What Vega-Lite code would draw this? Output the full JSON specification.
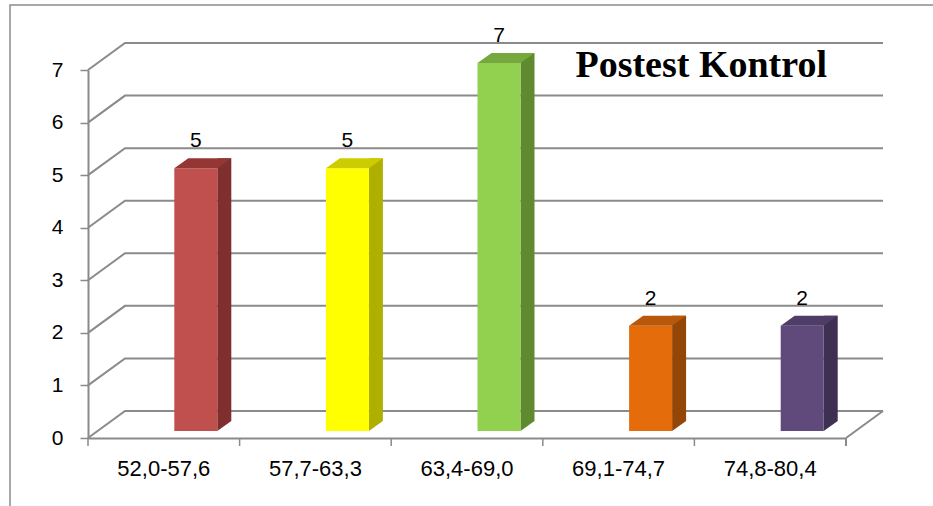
{
  "$schema": "https://vega.github.io/schema/vega-lite/v6.json",
  "autosize": "none",
  "width": 758,
  "height": 368,
  "padding": {"left": 88, "top": 70, "right": 87, "bottom": 68},
  "background": "#ffffff",
  "config": {
    "view": {"stroke": null},
    "font": "Liberation Sans, sans-serif",
    "axisX": {"ticks": false, "domain": true, "domainColor": "#8a8a8a", "domainWidth": 2, "labelAngle": 0, "labelFontSize": 22, "labelColor": "#000000", "labelPadding": 20, "labelAlign": "center", "labelFont": "Liberation Sans, sans-serif", "grid": false, "title": null},
    "axisY": {"grid": false, "domainColor": "#8a8a8a", "domainWidth": 2, "ticks": true, "tickColor": "#8a8a8a", "tickWidth": 1.5, "tickSize": 8, "labelPadding": 17, "labelFontSize": 21, "labelColor": "#000000", "labelFont": "Liberation Sans, sans-serif", "title": null}
  },
  "datasets": {
    "bars": [
      {"k": "52,0-57,6", "v": 5},
      {"k": "57,7-63,3", "v": 5},
      {"k": "63,4-69,0", "v": 7},
      {"k": "69,1-74,7", "v": 2},
      {"k": "74,8-80,4", "v": 2}
    ],
    "grid": [{"g": 0}, {"g": 1}, {"g": 2}, {"g": 3}, {"g": 4}, {"g": 5}, {"g": 6}, {"g": 7}],
    "titles": [{"t": "Postest Kontrol"}]
  },
  "resolve": {"scale": {"color": "independent"}},
  "layer": [
    {
      "data": {"name": "grid"},
      "mark": {"type": "point", "shape": "M0,0 L37,-27 L795,-27", "size": 4, "filled": false, "opacity": 1, "color": "#8a8a8a", "strokeWidth": 2, "xOffset": -75.8},
      "encoding": {
        "x": {"datum": "52,0-57,6", "type": "nominal", "title": null, "scale": {"domain": ["52,0-57,6", "57,7-63,3", "63,4-69,0", "69,1-74,7", "74,8-80,4"], "paddingInner": 0, "paddingOuter": 0}, "axis": {"labelAlign": "center", "bandPosition": 0.5}},
        "y": {"field": "g", "type": "quantitative", "title": null, "scale": {"domain": [0, 7], "nice": false}, "axis": {"values": [0, 1, 2, 3, 4, 5, 6, 7], "format": "d"}}
      }
    },
    {
      "data": {"name": "bars"},
      "mark": {"type": "point", "shape": "M0,0 L0,8", "size": 4, "filled": false, "opacity": 1, "color": "#8a8a8a", "strokeWidth": 1.5, "xOffset": -75.8},
      "encoding": {
        "x": {"field": "k", "type": "nominal", "title": null, "axis": {"labelAlign": "center", "bandPosition": 0.5}},
        "y": {"datum": 0, "type": "quantitative", "title": null, "axis": {"values": [0, 1, 2, 3, 4, 5, 6, 7], "format": "d"}}
      }
    },
    {
      "data": {"name": "titles"},
      "mark": {"type": "point", "shape": "M0,0 L37,-27 M0,0 L0,8", "size": 4, "filled": false, "opacity": 1, "color": "#8a8a8a", "strokeWidth": 2, "xOffset": 75.8},
      "encoding": {
        "x": {"datum": "74,8-80,4", "type": "nominal", "title": null, "axis": {"labelAlign": "center", "bandPosition": 0.5}},
        "y": {"datum": 0, "type": "quantitative", "title": null, "axis": {"values": [0, 1, 2, 3, 4, 5, 6, 7], "format": "d"}}
      }
    },
    {
      "data": {"name": "titles"},
      "mark": {"type": "point", "shape": "M0,600 L0,0 L1000,0", "size": 4, "filled": false, "opacity": 1, "color": "#8c8c8c", "strokeWidth": 1.5, "xOffset": -153.8, "yOffset": -65},
      "encoding": {
        "x": {"datum": "52,0-57,6", "type": "nominal", "title": null, "axis": {"labelAlign": "center", "bandPosition": 0.5}},
        "y": {"datum": 7, "type": "quantitative", "title": null, "axis": {"values": [0, 1, 2, 3, 4, 5, 6, 7], "format": "d"}}
      }
    },
    {
      "data": {"name": "bars"},
      "mark": {"type": "bar", "width": 14, "xOffset": 60.5, "yOffset": -17, "y2Offset": -17},
      "encoding": {
        "x": {"field": "k", "type": "nominal", "title": null, "axis": {"labelAlign": "center", "bandPosition": 0.5}},
        "y": {"field": "v", "type": "quantitative", "title": null, "axis": {"values": [0, 1, 2, 3, 4, 5, 6, 7], "format": "d"}},
        "y2": {"datum": 0},
        "color": {"field": "k", "type": "nominal", "legend": null, "scale": {"domain": ["52,0-57,6", "57,7-63,3", "63,4-69,0", "69,1-74,7", "74,8-80,4"], "range": ["#7F302E", "#AFAF00", "#5F8A30", "#944607", "#3E3050"]}}
      }
    },
    {
      "data": {"name": "bars"},
      "mark": {"type": "point", "shape": "M21.5,-10 L21.5,0 L35.5,-10 Z", "size": 4, "filled": true, "opacity": 1, "strokeWidth": 0, "xOffset": 32, "yOffset": -7},
      "encoding": {
        "x": {"field": "k", "type": "nominal", "title": null, "axis": {"labelAlign": "center", "bandPosition": 0.5}},
        "y": {"datum": 0, "type": "quantitative", "title": null, "axis": {"values": [0, 1, 2, 3, 4, 5, 6, 7], "format": "d"}},
        "color": {"field": "k", "type": "nominal", "legend": null, "scale": {"domain": ["52,0-57,6", "57,7-63,3", "63,4-69,0", "69,1-74,7", "74,8-80,4"], "range": ["#7F302E", "#AFAF00", "#5F8A30", "#944607", "#3E3050"]}}
      }
    },
    {
      "data": {"name": "bars"},
      "mark": {"type": "bar", "width": 43, "xOffset": 32, "yOffset": -7, "y2Offset": -7},
      "encoding": {
        "x": {"field": "k", "type": "nominal", "title": null, "axis": {"labelAlign": "center", "bandPosition": 0.5}},
        "y": {"field": "v", "type": "quantitative", "title": null, "axis": {"values": [0, 1, 2, 3, 4, 5, 6, 7], "format": "d"}},
        "y2": {"datum": 0},
        "color": {"field": "k", "type": "nominal", "legend": null, "scale": {"domain": ["52,0-57,6", "57,7-63,3", "63,4-69,0", "69,1-74,7", "74,8-80,4"], "range": ["#C0504D", "#FFFF00", "#92D050", "#E46C0A", "#604A7B"]}}
      }
    },
    {
      "data": {"name": "bars"},
      "mark": {"type": "point", "shape": "M-21.5,0 L21.5,0 L35.5,-10 L-7.5,-10 Z", "size": 4, "filled": true, "opacity": 1, "strokeWidth": 0, "xOffset": 32, "yOffset": -7},
      "encoding": {
        "x": {"field": "k", "type": "nominal", "title": null, "axis": {"labelAlign": "center", "bandPosition": 0.5}},
        "y": {"field": "v", "type": "quantitative", "title": null, "axis": {"values": [0, 1, 2, 3, 4, 5, 6, 7], "format": "d"}},
        "color": {"field": "k", "type": "nominal", "legend": null, "scale": {"domain": ["52,0-57,6", "57,7-63,3", "63,4-69,0", "69,1-74,7", "74,8-80,4"], "range": ["#943634", "#CCCC00", "#76A83E", "#B8580A", "#4E3D66"]}}
      }
    },
    {
      "data": {"name": "bars"},
      "mark": {"type": "text", "xOffset": 32, "yOffset": -28, "baseline": "alphabetic", "align": "center", "fontSize": 21, "color": "#000000", "font": "Liberation Sans, sans-serif"},
      "encoding": {
        "x": {"field": "k", "type": "nominal", "title": null, "axis": {"labelAlign": "center", "bandPosition": 0.5}},
        "y": {"field": "v", "type": "quantitative", "title": null, "axis": {"values": [0, 1, 2, 3, 4, 5, 6, 7], "format": "d"}},
        "text": {"field": "v", "type": "quantitative"}
      }
    },
    {
      "data": {"name": "titles"},
      "mark": {"type": "text", "xOffset": 56.8, "yOffset": 7, "baseline": "alphabetic", "align": "right", "fontSize": 38, "fontWeight": "bold", "color": "#000000", "font": "Liberation Serif"},
      "encoding": {
        "x": {"datum": "74,8-80,4", "type": "nominal", "title": null, "axis": {"labelAlign": "center", "bandPosition": 0.5}},
        "y": {"datum": 7, "type": "quantitative", "title": null, "axis": {"values": [0, 1, 2, 3, 4, 5, 6, 7], "format": "d"}},
        "text": {"field": "t", "type": "nominal"}
      }
    }
  ]
}
